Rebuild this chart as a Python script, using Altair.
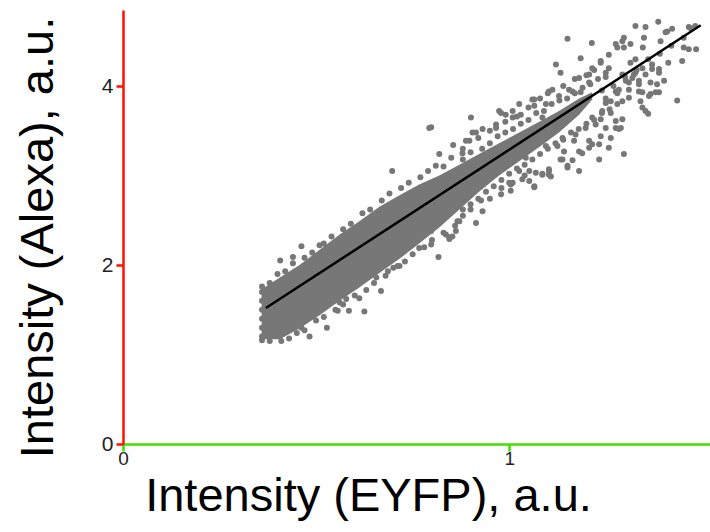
import altair as alt
import pandas as pd

# Dense core of the cloud: x, upper and lower edge
core_x = [0.359, 0.406, 0.457, 0.509, 0.561, 0.612, 0.664, 0.716, 0.767, 0.819,
          0.871, 0.922, 0.974, 1.026, 1.078, 1.129, 1.181, 1.215]
core_hi = [1.73, 1.86, 2.00, 2.17, 2.34, 2.49, 2.65, 2.78, 2.90, 3.00,
           3.12, 3.24, 3.36, 3.48, 3.60, 3.72, 3.86, 3.93]
core_lo = [1.17, 1.17, 1.29, 1.44, 1.60, 1.75, 1.91, 2.07, 2.24, 2.42,
           2.62, 2.82, 3.00, 3.16, 3.32, 3.48, 3.68, 3.85]

# Individual scattered points
dot_x = [
    0.407, 0.440, 0.462, 0.509, 0.483, 0.528, 0.585, 0.625, 0.612, 0.578, 0.561,
    0.668, 0.686, 0.711, 0.767, 0.776, 0.656, 0.462, 0.556, 0.703, 0.697, 0.817,
    0.845, 0.862, 0.914, 0.866, 0.716, 0.793, 0.855, 0.897, 0.914, 0.966, 0.871,
    0.931, 1.009, 1.026, 1.043,
    0.901, 0.905, 0.798, 0.979, 1.065, 1.086, 1.103, 1.138, 1.125, 1.142, 0.853,
    0.979, 1.004, 1.034, 1.052, 0.798, 0.836, 0.845, 0.798, 0.927, 1.004, 1.052,
    1.069, 1.133, 1.095, 0.888, 0.931, 0.966, 0.819, 0.810, 0.879, 1.009,
    1.151, 1.214, 1.121, 1.133, 1.185, 1.327, 1.353, 1.386, 1.409, 1.465, 1.452,
    1.484, 1.448, 1.412, 1.435, 1.388, 1.401, 1.383, 1.388, 1.362, 1.360, 1.345,
    1.340, 1.336, 1.297, 1.293, 1.276, 1.237, 1.215, 1.189, 1.164, 1.151, 1.103,
    1.065, 0.974, 1.030, 1.065, 1.112, 1.258, 1.280, 1.293, 1.314, 1.237, 1.215,
    1.250, 1.314, 1.345, 1.370, 1.349, 1.207, 1.185, 1.155, 1.310, 1.284, 1.263,
    1.241, 1.293, 1.310, 1.327,
    1.405, 1.422, 1.469, 1.482, 1.392, 1.452, 1.465, 1.346, 1.297, 1.297, 1.388,
    1.366, 1.345, 1.353, 1.336, 1.366, 1.323, 1.302, 1.289, 1.327, 1.370,
    1.276, 1.353, 1.379, 1.233, 1.207, 1.151, 1.103, 1.086, 1.108, 1.276, 1.284,
    1.250, 1.237, 1.263, 1.250, 1.276, 1.293, 1.319, 1.336, 1.258, 1.237, 1.207,
    1.181, 1.164, 1.129, 1.095, 1.086, 1.112, 1.138, 1.172, 1.198, 1.215,
    1.060, 1.065, 1.103, 1.026, 0.991, 1.009, 1.263, 1.258, 1.233, 1.207, 1.181,
    1.168, 1.224, 1.181,
    0.36, 0.38, 0.40, 0.42, 0.44, 0.47, 0.49, 0.52, 0.54, 0.57, 0.59, 0.62, 0.64,
    0.67, 0.69, 0.72, 0.74, 0.77, 0.79, 0.83, 0.85,
    0.36, 0.38, 0.41, 0.43, 0.45, 0.47, 0.50, 0.52, 0.55, 0.57, 0.60, 0.63, 0.65,
    0.68, 0.70, 0.73, 0.75, 0.78, 0.80, 0.83, 0.86, 0.88, 0.90, 0.95, 0.98, 1.00,
    1.04,
    0.88, 0.92, 0.95, 0.99, 1.02, 1.05, 1.08, 1.10, 1.14, 1.17, 1.20, 1.22,
    0.36, 0.36, 0.36, 0.36, 0.36, 0.36,
    0.88, 0.90, 0.93, 0.95, 0.97, 0.99, 1.01, 1.03, 1.05, 1.07, 1.09, 1.11, 1.13,
    1.15, 1.17, 1.19, 1.21, 1.23, 1.25,
    0.88, 0.90, 0.92, 0.94, 0.96, 0.98, 1.00, 1.02, 1.04, 1.06, 1.08, 1.10, 1.12,
    1.14, 1.16, 1.18, 1.20, 1.22, 1.24, 1.26, 1.28,
    1.24, 1.27, 1.30, 1.33, 1.36, 1.39, 1.42, 1.25, 1.28, 1.31,
]
dot_y = [
    2.05, 2.09, 2.21, 2.22, 1.20, 1.30, 1.49, 1.48, 1.63, 1.62, 1.58,
    1.71, 1.93, 1.99, 2.19, 2.34, 1.86, 1.30, 1.49, 2.10, 3.05, 2.09,
    2.31, 2.38, 2.47, 2.49, 1.99, 3.53, 3.34, 3.39, 3.48, 3.53, 2.49,
    2.60, 2.92, 3.05, 3.20,
    3.65, 3.48, 3.54, 3.70, 2.87, 3.02, 3.05, 3.18, 3.33, 3.27, 2.32,
    2.79, 2.90, 2.96, 3.05, 2.38, 2.34, 2.29, 2.23, 2.72, 2.83, 2.94,
    3.03, 3.18, 3.33, 3.39, 3.52, 3.57, 3.24, 3.11, 3.25, 3.65,
    4.53, 4.48, 4.24, 4.15, 4.31, 4.67, 4.66, 4.72, 4.61, 4.66, 4.43,
    4.41, 4.28, 4.26, 3.84, 4.15, 4.06, 4.02, 3.93, 3.89, 3.69, 3.76,
    3.83, 3.94, 3.24, 3.63, 3.53, 3.44, 3.35, 3.25, 3.17, 3.11, 3.01,
    2.88, 3.72, 3.68, 3.85, 3.96, 4.35, 4.43, 4.50, 4.47, 4.26, 4.20,
    4.15, 4.26, 4.20, 4.19, 4.54, 4.04, 3.93, 3.96, 4.04, 3.96, 3.83,
    3.72, 3.83, 3.87, 4.15,
    4.60, 4.64, 4.65, 4.67, 4.50, 4.54, 4.41, 4.43, 4.54, 4.43, 4.19,
    3.91, 3.93, 4.13, 4.06, 4.04, 4.13, 4.06, 3.53, 4.30, 4.24,
    4.47, 3.72, 3.93, 3.35, 3.39, 3.09, 3.07, 3.01, 2.99, 3.61, 3.52,
    3.53, 3.63, 3.70, 3.81, 3.94, 4.13, 4.09, 4.02, 4.20, 4.28, 4.13,
    4.09, 3.94, 3.89, 3.80, 3.65, 3.57, 3.42, 3.46, 3.53, 3.65,
    3.85, 3.78, 3.94, 3.80, 3.68, 3.72, 3.42, 3.31, 3.18, 3.31, 3.27,
    3.39, 3.57, 3.05,
    1.76, 1.80, 1.90, 1.93, 2.02, 2.08, 2.14, 2.24, 2.32, 2.40, 2.46, 2.58, 2.62,
    2.72, 2.80, 2.86, 2.92, 2.98, 3.05, 3.10, 3.20,
    1.16, 1.15, 1.15, 1.18, 1.24, 1.27, 1.38, 1.42, 1.50, 1.56, 1.66, 1.72, 1.80,
    1.88, 1.97, 2.04, 2.12, 2.20, 2.28, 2.36, 2.44, 2.55, 2.62, 2.74, 2.86, 2.92,
    3.00,
    3.30, 3.42, 3.50, 3.60, 3.66, 3.76, 3.86, 3.92, 4.00, 4.08, 4.12, 4.18,
    1.20, 1.30, 1.40, 1.50, 1.60, 1.70,
    3.18, 3.26, 3.30, 3.36, 3.44, 3.48, 3.52, 3.58, 3.62, 3.70, 3.72, 3.80, 3.84,
    3.86, 3.92, 3.98, 4.02, 4.08, 4.10,
    2.62, 2.68, 2.74, 2.82, 2.88, 2.95, 3.02, 3.08, 3.12, 3.18, 3.24, 3.30, 3.36,
    3.40, 3.48, 3.52, 3.58, 3.62, 3.70, 3.74, 3.80,
    3.95, 4.00, 4.10, 4.18, 4.30, 4.36, 4.45, 3.86, 3.92, 3.96,
]

# Fitted line end points
fit_x = [0.37, 1.496]
fit_y = [1.52, 4.68]

core = pd.DataFrame({"x": core_x, "y": core_hi, "y2": core_lo})
dots = pd.DataFrame({"x": dot_x, "y": dot_y})
fit = pd.DataFrame({"x": fit_x, "y": fit_y})

GREEN = "#3fe000"
RED = "#ff1000"
FONT = "Liberation Sans"

x_axis = alt.Axis(
    values=[0, 1], format="d", title="Intensity (EYFP), a.u.", grid=False,
    domainColor=GREEN, domainWidth=2.5, tickColor=GREEN, tickWidth=2.5, tickSize=7,
    labelFont=FONT, labelFontSize=19, labelColor="#222222", labelPadding=-2,
    labelFlush=False,
    titleFont=FONT, titleFontSize=47, titleFontWeight="normal", titleColor="black",
    titleX=245, titleY=66, titleAlign="center", titleBaseline="alphabetic",
)
y_axis = alt.Axis(
    values=[0, 2, 4], format="d", title="Intensity (Alexa), a.u.", grid=False,
    domainColor=RED, domainWidth=2.5, tickColor=RED, tickWidth=2.5, tickSize=7,
    labelFont=FONT, labelFontSize=21, labelColor="#222222", labelPadding=3,
    labelFlush=False,
    titleFont=FONT, titleFontSize=47, titleFontWeight="normal", titleColor="black",
    titleX=-71, titleY=227, titleAngle=270, titleAlign="center", titleBaseline="alphabetic",
)
xs = alt.Scale(domain=[0, 1.52], nice=False, zero=False)
ys = alt.Scale(domain=[0, 4.85], nice=False, zero=False)

area = alt.Chart(core).mark_area(color="#777777", opacity=1).encode(
    x=alt.X("x:Q", scale=xs, axis=x_axis),
    y=alt.Y("y:Q", scale=ys, axis=y_axis),
    y2="y2:Q",
)
pts = alt.Chart(dots).mark_circle(color="#777777", size=36, opacity=1).encode(
    x=alt.X("x:Q", scale=xs, axis=x_axis),
    y=alt.Y("y:Q", scale=ys, axis=y_axis),
)
line = alt.Chart(fit).mark_line(color="black", strokeWidth=2.5).encode(
    x=alt.X("x:Q", scale=xs, axis=x_axis),
    y=alt.Y("y:Q", scale=ys, axis=y_axis),
)

chart = alt.layer(area, pts, line).properties(
    width=587, height=434,
    padding={"left": 123, "top": 10, "right": 0, "bottom": 88},
    autosize=alt.AutoSizeParams(type="none"),
    background="white",
).configure_view(stroke=None)

chart.save("out.html", embed_options={"renderer": "svg", "actions": False})
